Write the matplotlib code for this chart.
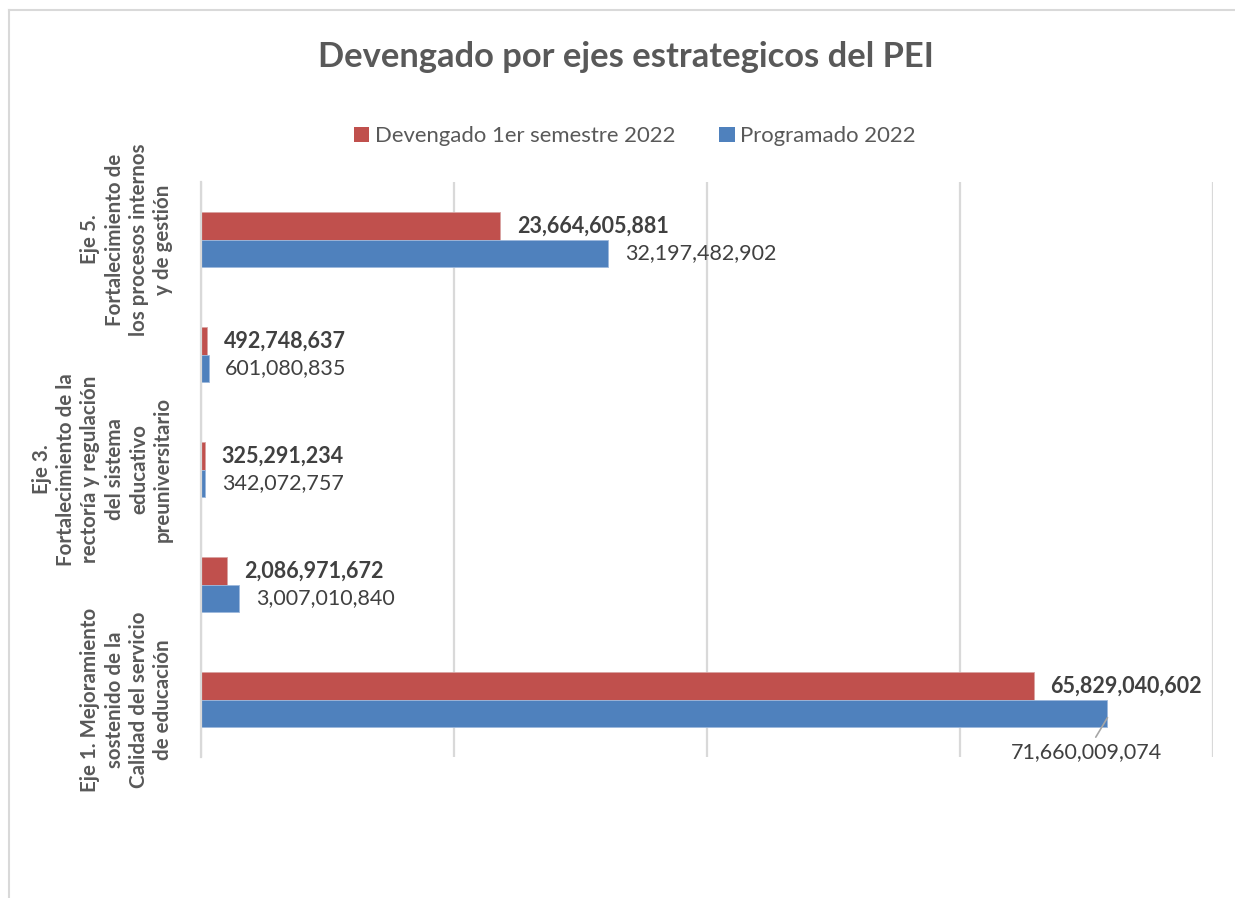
import matplotlib
matplotlib.use("Agg")
import matplotlib.pyplot as plt
import numpy as np
from matplotlib.patches import Patch
from matplotlib.lines import Line2D

plt.rcParams['font.family'] = ['Lato', 'DejaVu Sans']

categories = [
    "Eje 1. Mejoramiento\nsostenido de la\nCalidad del servicio\nde educación",
    "",
    "Eje 3.\nFortalecimiento de la\nrectoría y regulación\ndel sistema\neducativo\npreuniversitario",
    "",
    "Eje 5.\nFortalecimiento de\nlos procesos internos\ny de gestión",
]
devengado = [65829040602, 2086971672, 325291234, 492748637, 23664605881]
programado = [71660009074, 3007010840, 342072757, 601080835, 32197482902]
series_names = ["Devengado 1er semestre 2022", "Programado 2022"]

RED = "#C0504D"
BLUE = "#4F81BD"
TXT = "#595959"
LBL = "#404040"
GRID = "#D9D9D9"

W, H = 1235, 898
fig = plt.figure(figsize=(W / 100, H / 100), dpi=100)
ax = fig.add_axes([201 / W, 1 - 757 / H, (1213 - 201) / W, (757 - 182) / H])

y = np.arange(len(categories))
bh = 0.235
ax.barh(y + bh / 2, devengado, height=bh, color=RED, edgecolor="#D9A3A2", linewidth=0.6, zorder=3)
ax.barh(y - bh / 2, programado, height=bh, color=BLUE, edgecolor="#9DB8DC", linewidth=0.6, zorder=3)

ax.set_xlim(0, 80e9)
ax.set_ylim(-0.5, len(categories) - 0.5)
ax.set_xticks([0, 20e9, 40e9, 60e9, 80e9])
ax.set_xticklabels([])
ax.tick_params(axis='x', length=0)
ax.grid(axis='x', color=GRID, linewidth=1.6, zorder=0)
for s in ['top', 'right', 'bottom']:
    ax.spines[s].set_visible(False)
ax.spines['left'].set_color(GRID)
ax.spines['left'].set_linewidth(1.6)
ax.spines['left'].set_zorder(4)

ax.set_yticks(y)
ax.set_yticklabels(categories, rotation=90, ha='right', va='center',
                   multialignment='center', fontsize=14.8, fontweight='bold',
                   color=TXT, linespacing=1.27)
ax.tick_params(axis='y', length=0, pad=20)

for i, (d, p) in enumerate(zip(devengado, programado)):
    ax.annotate(f"{d:,}", (d, i + bh / 2), xytext=(12, 0), textcoords='offset points',
                va='center', ha='left', fontsize=15.5, fontweight='bold', color=LBL)
    if p == max(programado):
        ax.annotate(f"{p:,}", (p, i - bh / 2 - 0.04), xytext=(-15, -25), textcoords='offset points',
                    va='center', ha='center', fontsize=15.5, color=LBL,
                    arrowprops=dict(arrowstyle='-', color='#A6A6A6', lw=1.2,
                                    shrinkA=2, shrinkB=0))
    else:
        ax.annotate(f"{p:,}", (p, i - bh / 2), xytext=(12, 0), textcoords='offset points',
                    va='center', ha='left', fontsize=15.5, color=LBL)

fig.text(0.507, 1 - 57 / H, "Devengado por ejes estrategicos del PEI", ha='center', va='center',
         fontsize=24.8, fontweight='bold', color=TXT)

handles = [Patch(facecolor=RED), Patch(facecolor=BLUE)]
fig.legend(handles, series_names, loc='center', bbox_to_anchor=(0.514, 1 - 136 / H), ncol=2,
           frameon=False, fontsize=15.9, handlelength=0.7, handleheight=0.7,
           handletextpad=0.25, columnspacing=2.0, labelcolor=TXT)

# chart border (top and left edges visible in crop)
fig.add_artist(Line2D([9 / W, 9 / W], [0, 1 - 10 / H], transform=fig.transFigure, color=GRID, lw=1.5))
fig.add_artist(Line2D([9 / W, 1], [1 - 10 / H, 1 - 10 / H], transform=fig.transFigure, color=GRID, lw=1.5))

fig.savefig("out.png", dpi=100)
